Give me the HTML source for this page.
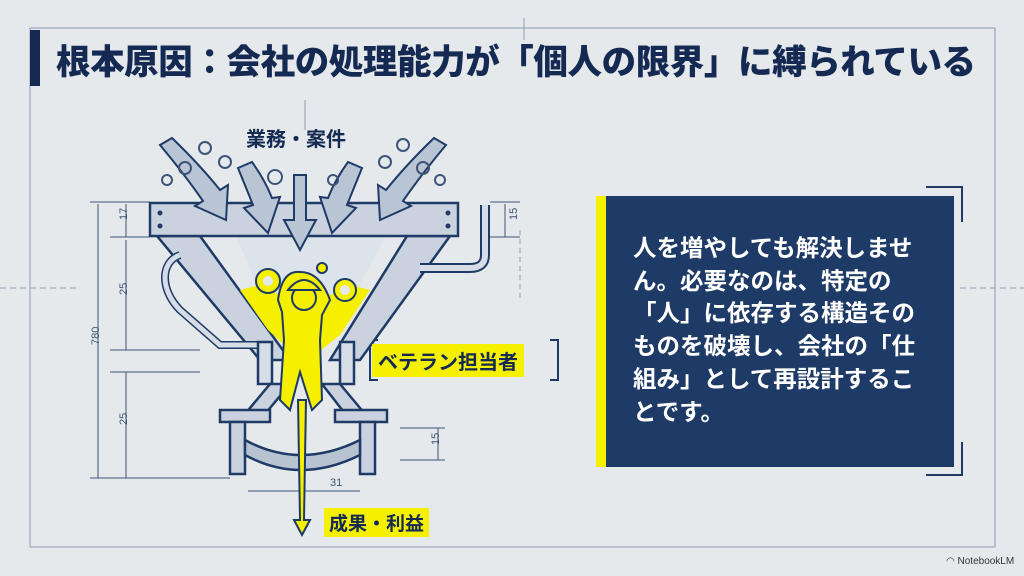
<!DOCTYPE html>
<html><head><meta charset="utf-8"><style>
body{margin:0;width:1024px;height:576px;overflow:hidden;background:#e6e9ec;font-family:"Liberation Sans","Noto Sans CJK JP",sans-serif;}
.t{position:absolute;left:56px;top:34px;font-size:34.5px;font-weight:900;color:#142a52;letter-spacing:-0.4px;white-space:nowrap}
.box{position:absolute;left:606px;top:196px;width:348px;height:271px;background:#1e3a66;}
.bar{position:absolute;left:596px;top:196px;width:10px;height:271px;background:#f5ef00}
.bt{position:absolute;left:633px;top:232px;color:#fff;font-size:23.5px;line-height:32.7px;font-weight:700;width:292px}
</style></head><body>
<svg width="1024" height="576" style="position:absolute;left:0;top:0">
<g stroke="#8f9cb0" stroke-width="1" fill="none">
<rect x="30" y="28" width="965" height="519"/>
<line x1="524" y1="18" x2="524" y2="40"/>
<line x1="305" y1="100" x2="305" y2="130"/>
<line x1="0" y1="288" x2="80" y2="288" stroke-dasharray="6 4"/>
<line x1="960" y1="288" x2="1024" y2="288" stroke-dasharray="6 4"/>
<line x1="520" y1="230" x2="520" y2="300" stroke-dasharray="5 4"/>
</g>
<g stroke="#1e3a66" stroke-width="2" fill="none">
<polyline points="926,187 962,187 962,222"/>
<polyline points="962,442 962,475 926,475"/>
<polyline points="378,340 370,340 370,380 378,380"/>
<polyline points="550,340 558,340 558,380 550,380"/>
</g>
<g stroke="#3d5478" stroke-width="1" fill="none">
<line x1="98" y1="204" x2="98" y2="478"/><line x1="126" y1="204" x2="126" y2="237"/>
<line x1="126" y1="240" x2="126" y2="350"/><line x1="126" y1="372" x2="126" y2="478"/>
<line x1="90" y1="202" x2="150" y2="202"/><line x1="110" y1="237" x2="150" y2="237"/>
<line x1="110" y1="350" x2="200" y2="350"/><line x1="110" y1="372" x2="200" y2="372"/>
<line x1="90" y1="478" x2="230" y2="478"/>
<line x1="505" y1="204" x2="505" y2="237"/><line x1="490" y1="202" x2="520" y2="202"/><line x1="490" y1="237" x2="520" y2="237"/>
<line x1="438" y1="428" x2="438" y2="460"/><line x1="400" y1="428" x2="445" y2="428"/><line x1="400" y1="460" x2="445" y2="460"/>
<line x1="248" y1="491" x2="360" y2="491"/>
</g>
<g font-family="Liberation Sans" font-size="11" fill="#3d5478">
<text x="122" y="225" transform="rotate(-90 122 220)">17</text>
<text x="122" y="300" transform="rotate(-90 122 295)">25</text>
<text x="122" y="430" transform="rotate(-90 122 425)">25</text>
<text x="94" y="350" transform="rotate(-90 94 345)">780</text>
<text x="512" y="225" transform="rotate(-90 512 220)">15</text>
<text x="434" y="450" transform="rotate(-90 434 445)">15</text>
<text x="330" y="486">31</text>
</g>
<g stroke="#1e3a66" stroke-width="2.5" fill="#c9d2de">
<polygon points="236,236 386,236 330,340 280,340" fill="#dde3ea" stroke="none"/>
<polygon points="157,236 200,236 290,360 260,360"/>
<polygon points="450,236 407,236 330,360 360,360"/>
<path d="M180,255 C160,262 160,290 180,310 L220,345 L260,345" fill="none" stroke-width="8" stroke="#1e3a66"/>
<path d="M180,255 C160,262 160,290 180,310 L220,345 L260,345" fill="none" stroke-width="5" stroke="#d6dde7"/>
<path d="M420,268 L470,268 Q485,268 485,255 L485,205" fill="none" stroke-width="10" stroke="#1e3a66"/>
<path d="M420,268 L470,268 Q485,268 485,255 L485,205" fill="none" stroke-width="6" stroke="#d6dde7"/>
<rect x="258" y="342" width="14" height="42" fill="#d6dde7"/>
<rect x="340" y="342" width="14" height="42" fill="#d6dde7"/>
<polygon points="270,384 240,420 260,420 290,384"/>
<polygon points="340,384 370,420 350,420 322,384"/>
<rect x="220" y="410" width="50" height="12"/><rect x="335" y="410" width="52" height="12"/>
<rect x="230" y="422" width="15" height="52"/><rect x="360" y="422" width="15" height="52"/>
<path d="M245,440 Q300,470 360,440 L360,455 Q300,485 245,455Z" fill="#b8c3d2"/>
<rect x="150" y="203" width="308" height="33"/>
</g>
<g fill="#1e3a66"><circle cx="160" cy="213" r="2.5"/><circle cx="160" cy="226" r="2.5"/><circle cx="448" cy="213" r="2.5"/><circle cx="448" cy="226" r="2.5"/></g>
<g stroke="#1e3a66" stroke-width="2" fill="#b9c5d5">
<path d="M160,145 L172,138 Q200,165 220,190 L228,185 L226,220 L195,206 L203,201 Q185,175 160,145Z"/>
<path d="M238,168 L252,162 Q265,180 272,198 L280,197 L268,233 L244,208 L253,205 Q247,190 238,168Z"/>
<path d="M294,175 L306,175 L306,220 L316,220 L300,250 L284,220 L294,220Z"/>
<path d="M362,168 L348,162 Q335,180 328,198 L320,197 L332,233 L356,208 L347,205 Q353,190 362,168Z"/>
<path d="M446,145 L434,138 Q406,165 386,190 L378,185 L380,220 L411,206 L403,201 Q421,175 446,145Z"/>
</g>
<g stroke="#3d5478" stroke-width="2" fill="none">
<circle cx="205" cy="148" r="6"/><circle cx="225" cy="162" r="6"/><circle cx="185" cy="168" r="6"/><circle cx="167" cy="180" r="5"/><circle cx="275" cy="177" r="7"/><circle cx="333" cy="180" r="5"/><circle cx="385" cy="162" r="6"/><circle cx="403" cy="145" r="6"/><circle cx="423" cy="168" r="6"/><circle cx="440" cy="180" r="5"/>
</g>
<g stroke="#1e3a66" stroke-width="2" fill="#f5ef00">
<path d="M240,290 L260,285 L290,300 L320,300 L350,285 L370,290 L340,335 L315,355 L295,355 L268,330Z" stroke="none"/>
<circle cx="268" cy="281" r="12"/><circle cx="345" cy="290" r="11"/><circle cx="322" cy="268" r="5"/>
<path d="M278,300 Q282,270 300,272 Q320,272 330,300 L322,315 L320,340 L322,400 L312,410 L300,372 L290,410 L280,400 L284,340 L282,312Z"/>
<circle cx="304" cy="298" r="12"/>
<path d="M288,290 Q304,270 320,290Z"/>
<path d="M298,400 L306,400 L304,520 L310,520 L302,535 L294,520 L300,520Z"/>
</g>
<g fill="#e6e9ec"><circle cx="268" cy="281" r="5"/><circle cx="345" cy="290" r="5"/></g>
</svg>
<div class="t">根本原因：会社の処理能力が「個人の限界」に縛られている</div>
<div style="position:absolute;left:30px;top:30px;width:10px;height:56px;background:#142a52"></div>
<div style="position:absolute;left:246px;top:123px;font-size:20px;font-weight:700;color:#142a52">業務・案件</div>
<div style="position:absolute;left:372px;top:344px;background:#f5ef00;font-size:20px;font-weight:700;color:#142a52;padding:2px 6px">ベテラン担当者</div>
<div style="position:absolute;left:324px;top:508px;background:#f5ef00;font-size:19px;font-weight:700;color:#142a52;padding:1px 5px">成果・利益</div>
<div class="bar"></div><div class="box"></div>
<div class="bt">人を増やしても解決しません。必要なのは、特定の「人」に依存する構造そのものを破壊し、会社の「仕組み」として再設計することです。</div>
<div style="position:absolute;left:946px;top:556px;font-size:10px;color:#333">◠ NotebookLM</div>
</body></html>
